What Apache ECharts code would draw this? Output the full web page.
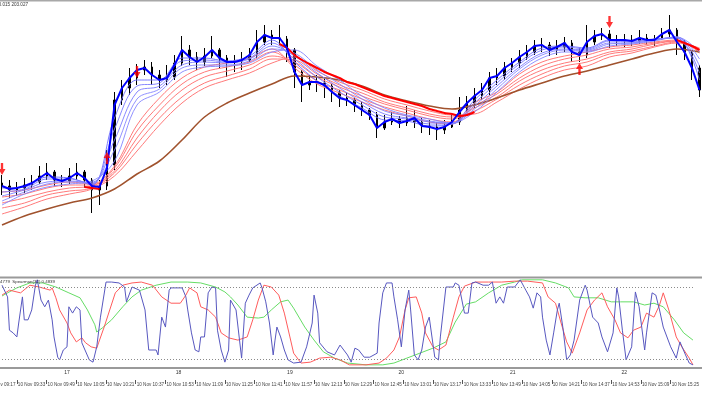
<!DOCTYPE html>
<html><head><meta charset="utf-8">
<script src="https://cdn.jsdelivr.net/npm/echarts@6/dist/echarts.min.js"></script>
<style>html,body{margin:0;padding:0;background:#fff}#c{width:702px;height:395px}</style>
</head><body><div id="c"></div>
<script>
const N = null;
// ---- time base (4-minute bars from 09:25) ----
const barStart = '09:25';
const barStepMin = 4;
const barCount = 94;
const fanStep = 3; // fan lines sampled every 3rd bar

// ---- price bars ----
const barOpen = [203.017,203.014,203.010,203.012,203.015,203.018,203.024,203.028,203.020,203.019,
203.024,203.028,203.020,203.010,203.014,203.035,203.100,203.112,203.122,203.130,
203.133,203.125,203.120,203.123,203.137,203.150,203.143,203.138,203.144,203.150,
203.142,203.138,203.139,203.140,203.145,203.158,203.165,203.162,203.161,203.150,
203.128,203.115,203.118,203.117,203.114,203.108,203.102,203.100,203.095,203.090,
203.085,203.072,203.078,203.081,203.077,203.082,203.078,203.074,203.073,203.070,
203.073,203.078,203.090,203.097,203.104,203.110,203.122,203.124,203.132,203.137,
203.143,203.148,203.154,203.155,203.150,203.153,203.157,203.148,203.145,203.158,
203.164,203.166,203.160,203.159,203.160,203.159,203.162,203.160,203.161,203.166,
203.170,203.158,203.148,203.132];
const barClose = [203.014,203.010,203.012,203.015,203.018,203.024,203.028,203.020,203.019,203.024,
203.028,203.020,203.010,203.014,203.035,203.100,203.112,203.122,203.130,203.133,
203.125,203.120,203.123,203.137,203.150,203.143,203.138,203.144,203.150,203.142,
203.138,203.139,203.140,203.145,203.158,203.165,203.162,203.161,203.150,203.128,
203.115,203.118,203.117,203.114,203.108,203.102,203.100,203.095,203.090,203.085,
203.072,203.078,203.081,203.077,203.082,203.078,203.074,203.073,203.070,203.073,
203.078,203.090,203.097,203.104,203.110,203.122,203.124,203.132,203.137,203.143,
203.148,203.154,203.155,203.150,203.153,203.157,203.148,203.145,203.158,203.164,
203.166,203.160,203.159,203.160,203.159,203.162,203.160,203.161,203.166,203.170,
203.158,203.148,203.132,203.110];
const barLow = [203.005,203.002,203.004,203.007,203.010,203.016,203.020,203.014,203.013,203.016,
203.020,203.012,202.987,202.995,203.010,203.030,203.095,203.105,203.115,203.125,
203.115,203.112,203.115,203.120,203.134,203.135,203.130,203.134,203.142,203.132,
203.123,203.128,203.130,203.138,203.142,203.155,203.155,203.155,203.138,203.112,
203.098,203.110,203.108,203.102,203.098,203.093,203.094,203.088,203.084,203.080,
203.062,203.070,203.075,203.072,203.074,203.072,203.067,203.065,203.060,203.066,
203.072,203.075,203.088,203.092,203.100,203.105,203.115,203.120,203.128,203.132,
203.140,203.145,203.148,203.144,203.145,203.148,203.138,203.138,203.142,203.155,
203.160,203.152,203.154,203.153,203.154,203.156,203.155,203.154,203.160,203.162,
203.145,203.140,203.120,203.103];
const barHigh = [203.025,203.020,203.018,203.022,203.025,203.034,203.037,203.030,203.025,203.032,
203.037,203.030,203.022,203.020,203.050,203.108,203.120,203.132,203.136,203.140,
203.138,203.130,203.135,203.145,203.164,203.155,203.148,203.152,203.164,203.152,
203.145,203.145,203.148,203.152,203.170,203.175,203.170,203.175,203.164,203.152,
203.130,203.125,203.125,203.122,203.116,203.110,203.108,203.102,203.098,203.092,
203.088,203.085,203.088,203.084,203.094,203.090,203.082,203.080,203.078,203.080,
203.085,203.103,203.104,203.112,203.117,203.128,203.132,203.138,203.142,203.150,
203.155,203.160,203.162,203.158,203.160,203.163,203.160,203.152,203.175,203.170,
203.172,203.170,203.165,203.166,203.165,203.170,203.166,203.165,203.172,203.185,
203.172,203.160,203.150,203.135];

// ---- moving averages ----
const emaFastBlue = [203.014,203.011,203.012,203.014,203.017,203.022,203.027,203.021,203.019,203.022,
203.027,203.022,203.014,203.013,203.032,203.095,203.112,203.122,203.130,203.132,
203.125,203.120,203.122,203.135,203.150,203.143,203.138,203.143,203.150,203.142,
203.138,203.138,203.140,203.145,203.158,203.165,203.162,203.162,203.152,203.128,
203.115,203.118,203.118,203.115,203.108,203.102,203.100,203.095,203.090,203.085,
203.072,203.078,203.081,203.077,203.079,203.082,203.074,203.073,203.071,203.073,
203.078,203.088,203.097,203.104,203.110,203.122,203.124,203.132,203.137,203.143,
203.148,203.154,203.155,203.150,203.153,203.157,203.148,203.145,203.158,203.164,
203.166,203.160,203.160,203.160,203.159,203.162,203.160,203.160,203.166,203.170,
203.158,203.148,203.132,203.110];
const blue1 = [203.012,203.013,203.023,203.022,203.015,203.082,203.120,203.120,203.142,203.142,203.139,203.144,203.160,203.138,203.119,203.104,203.092,203.080,203.079,203.074,203.076,203.100,203.120,203.138,203.152,203.154,203.152,203.160,203.159,203.161,203.162,203.120];
const blue2 = [203.008,203.011,203.021,203.021,203.016,203.071,203.114,203.117,203.139,203.140,203.138,203.142,203.157,203.141,203.123,203.108,203.095,203.083,203.081,203.076,203.076,203.097,203.117,203.136,203.150,203.153,203.151,203.159,203.158,203.161,203.162,203.127];
const blue3 = [203.004,203.010,203.018,203.019,203.017,203.060,203.108,203.114,203.135,203.138,203.137,203.141,203.154,203.144,203.127,203.112,203.098,203.086,203.082,203.078,203.077,203.094,203.114,203.133,203.147,203.151,203.150,203.157,203.157,203.160,203.163,203.134];
const blue4 = [202.999,203.008,203.016,203.018,203.018,203.050,203.101,203.111,203.132,203.135,203.135,203.139,203.151,203.147,203.130,203.116,203.101,203.089,203.084,203.079,203.077,203.091,203.111,203.131,203.145,203.150,203.149,203.156,203.157,203.160,203.163,203.141];
const blue5 = [202.995,203.006,203.013,203.016,203.019,203.039,203.095,203.108,203.128,203.133,203.134,203.137,203.148,203.150,203.134,203.120,203.104,203.092,203.085,203.081,203.077,203.088,203.108,203.128,203.142,203.148,203.148,203.154,203.156,203.159,203.163,203.148];
const red1 = [203.008,203.010,203.015,203.018,203.016,203.034,203.075,203.102,203.122,203.133,203.137,203.142,203.151,203.132,203.116,203.107,203.098,203.090,203.084,203.078,203.076,203.097,203.108,203.126,203.138,203.144,203.148,203.153,203.155,203.158,203.160,203.147];
const red2 = [203.003,203.006,203.012,203.015,203.015,203.032,203.069,203.095,203.116,203.128,203.133,203.138,203.148,203.135,203.119,203.110,203.101,203.093,203.087,203.081,203.078,203.094,203.106,203.122,203.134,203.141,203.145,203.151,203.153,203.157,203.159,203.148];
const red3 = [202.997,203.002,203.008,203.012,203.014,203.029,203.062,203.089,203.110,203.123,203.129,203.135,203.144,203.138,203.123,203.113,203.104,203.096,203.090,203.084,203.081,203.092,203.103,203.119,203.130,203.137,203.141,203.148,203.151,203.156,203.159,203.150];
const red4 = [202.992,202.997,203.005,203.009,203.012,203.027,203.056,203.082,203.103,203.117,203.124,203.131,203.141,203.140,203.126,203.115,203.107,203.098,203.092,203.086,203.083,203.089,203.101,203.115,203.126,203.134,203.138,203.146,203.149,203.154,203.158,203.151];
const red5 = [202.986,202.993,203.001,203.006,203.011,203.024,203.049,203.075,203.097,203.112,203.120,203.127,203.137,203.143,203.129,203.118,203.110,203.101,203.095,203.089,203.085,203.086,203.098,203.111,203.122,203.130,203.134,203.143,203.147,203.153,203.157,203.152];
const brownSlow = [202.975,202.984,202.991,202.997,203.002,203.011,203.026,203.039,203.060,203.083,203.097,203.107,203.116,203.124,203.123,203.120,203.114,203.105,203.099,203.094,203.091,203.095,203.102,203.110,203.117,203.124,203.129,203.135,203.141,203.147,203.151,203.148];
const thickRed = [N,N,N,N,N,N,N,N,N,N,
N,203.013,203.012,203.011,N,N,N,N,N,N,
N,N,N,N,N,N,N,N,N,N,
N,N,N,N,N,N,N,203.156,203.152,203.145,
203.140,203.136,203.132,203.128,203.125,203.122,203.118,203.116,203.113,203.110,
203.107,203.104,203.102,203.100,203.098,203.096,203.094,203.091,203.089,203.087,
203.086,203.084,203.085,203.088,N,N,N,N,N,N,
N,N,N,N,N,N,N,N,N,N,
N,N,N,N,N,N,N,N,N,N,
203.160,203.157,203.154,203.150];

// ---- signal arrows (bar index, price) ----
const arrowDownBar = [0, 18, 81];
const arrowDownPrice = [203.031, 203.128, 203.178];
const arrowUpBar = [14, 77];
const arrowUpPrice = [203.042, 203.131];

// ---- oscillator (times in minutes after 09:00) ----
const oscBlueMin = [25,28,29,31,33,34,36,37,39,41,
43,44,46,48,50,52,53,55,56,58,
60,61,63,65,67,68,72,74,76,78,
81,84,88,91,92,95,99,102,104,108,
109,111,113,115,116,122,124,125,127,129,
131,132,134,136,138,140,141,143,145,147,
148,151,154,156,158,160,164,165,167,169,
171,172,173,175,177,179,182,186,189,192,
193,195,196,200,204,207,209,211,213,215,
217,220,223,227,228,230,232,235,236,238,
240,242,244,245,247,249,251,253,255,258,
260,261,264,268,269,271,274,276,278,280,
284,287,289,291,293,295,297,301,304,307,
309,311,313,315,316,318,320,322,324,325,
327,329,331,333,336,339,340,343,346,348,
351,354,356,357,359,361,364,366,368,371,
372,375,377,379,381,385,388,390,393,395,
397];
const oscBlueVal = [0.84,0.58,-0.16,-0.22,-0.31,0.00,0.58,0.07,0.07,0.29,
0.84,0.96,0.51,0.36,0.51,0.07,-0.31,-0.76,-0.82,-0.60,
-0.53,0.36,0.22,0.36,0.29,-0.44,-0.82,-0.87,-0.53,0.13,
0.91,0.91,0.89,0.80,0.47,0.80,0.73,0.29,-0.60,-0.60,
-0.71,0.13,-0.09,0.73,0.78,0.78,0.58,0.29,-0.22,-0.60,
-0.64,-0.31,-0.31,0.67,0.80,0.78,-0.16,-0.60,-0.87,-0.60,
0.51,0.29,-0.78,0.44,0.62,0.78,0.89,0.78,0.47,0.00,
-0.71,-0.38,-0.09,-0.31,-0.60,-0.82,-0.89,-0.87,-0.53,0.00,
0.62,0.22,-0.44,-0.64,-0.71,-0.49,-0.60,-0.71,-0.87,-0.56,
-0.60,-0.76,-0.76,-0.67,0.00,0.67,0.89,0.89,0.58,0.07,
-0.53,0.29,0.73,0.29,-0.71,-0.82,-0.60,-0.09,0.13,-0.76,
-0.82,-0.31,0.80,0.80,0.89,0.84,0.22,0.22,0.89,0.91,
0.84,0.84,0.91,0.44,0.58,0.44,0.80,0.80,0.96,0.73,
0.58,0.33,0.67,0.58,0.13,-0.38,-0.71,-0.22,0.29,0.44,
-0.11,-0.82,-0.71,-0.38,0.51,0.84,0.73,0.13,0.00,-0.31,
-0.64,-0.22,0.78,0.58,-0.16,-0.82,-0.53,0.69,0.36,-0.60,
-0.22,0.67,0.62,0.29,-0.09,-0.53,-0.78,-0.42,-0.71,-0.89,
-0.93];
const oscRedMin = [25,29,35,40,45,51,52,54,56,60,62,65,68,70,73,76,77,80,83,86,
90,95,100,106,111,116,121,124,126,130,132,136,140,143,147,152,157,160,163,166,
170,174,177,180,182,186,191,196,202,207,212,221,228,232,236,239,242,244,248,251,
253,257,260,264,268,271,274,280,287,294,301,308,316,319,323,326,329,332,333,336,
340,344,348,351,355,358,362,365,369,372,376,379,381,384,388,391,395,397];
const oscRedVal = [0.62,0.73,0.67,0.84,0.80,0.73,0.78,0.56,0.29,0.00,-0.22,-0.42,-0.33,-0.44,-0.53,-0.56,-0.44,-0.09,0.29,0.67,
0.84,0.89,0.91,0.84,0.58,0.44,0.44,0.62,0.78,0.67,0.36,0.29,0.13,-0.22,-0.33,-0.38,-0.31,0.07,0.51,0.84,
0.80,0.62,0.22,-0.31,-0.67,-0.89,-0.87,-0.78,-0.76,-0.82,-0.93,-0.93,-0.89,-0.78,-0.60,-0.31,0.29,0.56,0.58,0.22,
-0.22,-0.53,-0.60,-0.49,0.13,0.58,0.82,0.91,0.91,0.91,0.93,0.93,0.89,0.58,0.44,0.00,-0.42,-0.67,-0.64,-0.22,
0.29,0.51,0.67,0.36,0.07,-0.22,-0.33,-0.16,-0.09,0.22,0.13,0.40,0.67,0.29,-0.31,-0.53,-0.78,-0.93];
const oscGreenMin = [25,28,33,40,47,54,61,67,71,75,76,79,84,90,95,100,108,116,125,132,
140,145,148,152,157,163,166,170,175,179,182,188,193,198,204,211,221,230,236,243,
250,257,264,269,275,280,287,294,301,305,316,323,330,333,339,346,353,358,365,371,
376,381,387,392,397];
const oscGreenVal = [0.60,0.67,0.78,0.89,0.89,0.80,0.67,0.56,0.29,-0.04,-0.20,-0.11,0.07,0.36,0.58,0.73,0.84,0.91,0.91,0.89,
0.80,0.69,0.58,0.40,0.13,0.11,0.13,0.29,0.47,0.51,0.33,-0.09,-0.38,-0.64,-0.78,-0.89,-0.93,-0.93,-0.89,-0.78,
-0.67,-0.56,-0.42,0.02,0.42,0.47,0.67,0.84,0.91,0.96,0.96,0.89,0.78,0.58,0.56,0.56,0.47,0.47,0.47,0.40,
0.44,0.36,0.07,-0.22,-0.38];
const oscLevels = [0.8, -0.8];

// ---- axis labels ----
const timeLabels = ['09:33','09:49','10:05','10:21','10:37','10:53','11:09','11:25','11:41','11:57','12:13','12:29',
'12:45','13:01','13:17','13:33','13:49','14:05','14:21','14:37','14:53','15:09','15:25'];
const firstHiddenLabel = '09:17';
const hourLabels = ['17','18','19','20','21','22'];
const hourTimes = ['10:00','11:00','12:00','13:00','14:00','15:00'];
const priceText = '203.015 203.027';
const oscText = 'Spearman(16) 0.4779  Spearman(32) 0.4839';

// ---- helpers ----
const pad = n => (n < 10 ? '0' : '') + n;
const toMin = s => { const p = s.split(':'); return (+p[0] - 9) * 60 + (+p[1]); };
const minToClock = m => pad(9 + Math.floor(m / 60)) + ':' + pad(m % 60);
const startMin = toMin(barStart);
const barTimes = [];
for (let i = 0; i < barCount; i++) barTimes.push(minToClock(startMin + i * barStepMin));
const endMin = startMin + (barCount - 1) * barStepMin;
const onFanBars = arr => barTimes.map((t, i) => (i % fanStep === 0 ? arr[i / fanStep] : null));
const zip = (a, b) => a.map((v, i) => [v, b[i]]);
const timeTicks = timeLabels.map(toMin);
const hourTicks = hourTimes.map(toMin);
const hourMap = {}; hourTicks.forEach((m, i) => hourMap[m] = hourLabels[i]);
const FONT = 'Liberation Sans, Arial, sans-serif';

const candleData = barOpen.map((o, i) => [o, barClose[i], barLow[i], barHigh[i]]);

function fanLine(arr, color, width) {
  return { type: 'line', xAxisIndex: 0, yAxisIndex: 0, data: onFanBars(arr), connectNulls: true,
    smooth: 0.35, showSymbol: false, silent: true, lineStyle: { color: color, width: width }, z: 3 };
}
function oscLine(mins, vals, color, extra) {
  return Object.assign({ type: 'line', xAxisIndex: 1, yAxisIndex: 1, data: zip(mins, vals), showSymbol: false,
    silent: true, lineStyle: { color: color, width: 1 }, z: 3 }, extra || {});
}

const chart = echarts.init(document.getElementById('c'), null, { renderer: 'canvas' });
const option = {
  animation: false,
  backgroundColor: '#ffffff',
  grid: [
    { left: 2, right: 2.5, top: 2, height: 270 },
    { left: 2, right: 2.5, top: 278, height: 90 }
  ],
  xAxis: [
    { type: 'category', gridIndex: 0, data: barTimes, boundaryGap: false, show: false },
    { type: 'value', gridIndex: 1, min: startMin, max: endMin, position: 'bottom', offset: 12,
      axisLine: { show: false, onZero: false }, splitLine: { show: false },
      axisTick: { show: true, customValues: timeTicks, length: 4, inside: false, lineStyle: { color: '#555', width: 1 } },
      axisLabel: { customValues: timeTicks, formatter: v => '10 Nov ' + minToClock(v), align: 'left', margin: 2,
        padding: [0, 0, 0, 1], fontSize: 4.6, fontFamily: FONT, color: '#444' } },
    { type: 'value', gridIndex: 1, min: startMin, max: endMin, position: 'bottom', offset: 0,
      axisLine: { show: false, onZero: false }, splitLine: { show: false }, axisTick: { show: false },
      axisLabel: { customValues: hourTicks, formatter: v => hourMap[v] || '', margin: 2,
        fontSize: 5, fontFamily: FONT, color: '#333' } }
  ],
  yAxis: [
    { type: 'value', gridIndex: 0, min: 202.928, max: 203.198, show: false, scale: true },
    { type: 'value', gridIndex: 1, min: -1, max: 1, show: false }
  ],
  series: [
    { type: 'candlestick', xAxisIndex: 0, yAxisIndex: 0, data: candleData, barWidth: 2, silent: true, z: 2,
      itemStyle: { color: '#000', color0: '#000', borderColor: '#000', borderColor0: '#000', borderWidth: 1 } },
    fanLine(red1, '#ff7a7a', 1), fanLine(red2, '#ff7a7a', 1), fanLine(red3, '#ff7a7a', 1),
    fanLine(red4, '#ff7a7a', 1), fanLine(red5, '#ff7a7a', 1),
    fanLine(brownSlow, '#a0522d', 1.6),
    fanLine(blue1, '#6b6bff', 0.9), fanLine(blue2, '#7b7bff', 0.9), fanLine(blue3, '#7b7bff', 0.9),
    fanLine(blue4, '#8585ff', 0.9), fanLine(blue5, '#8585ff', 0.9),
    { type: 'line', xAxisIndex: 0, yAxisIndex: 0, data: thickRed, showSymbol: false, silent: true, smooth: 0.2,
      lineStyle: { color: '#ff0000', width: 2 }, z: 5 },
    { type: 'line', xAxisIndex: 0, yAxisIndex: 0, data: emaFastBlue, showSymbol: false, silent: true,
      lineStyle: { color: '#0000ff', width: 2 }, z: 6 },
    { type: 'scatter', xAxisIndex: 0, yAxisIndex: 0, data: zip(arrowDownBar, arrowDownPrice), silent: true, z: 8,
      symbol: 'path://M2,0 L4,0 L4,5 L6,5 L3,10 L0,5 L2,5 Z', symbolSize: [7, 12], itemStyle: { color: '#ff0000' } },
    { type: 'scatter', xAxisIndex: 0, yAxisIndex: 0, data: zip(arrowUpBar, arrowUpPrice), silent: true, z: 8,
      symbol: 'path://M3,0 L6,5 L4,5 L4,10 L2,10 L2,5 L0,5 Z', symbolSize: [7, 12], itemStyle: { color: '#ff0000' } },
    oscLine(oscGreenMin, oscGreenVal, '#66dd66'),
    oscLine(oscRedMin, oscRedVal, '#ff5c5c'),
    oscLine(oscBlueMin, oscBlueVal, '#5858c0', {
      markLine: { silent: true, symbol: ['none', 'none'], label: { show: false }, animation: false,
        lineStyle: { color: '#8a8a8a', type: [1, 2], width: 1 },
        data: oscLevels.map(v => ({ yAxis: v })) }
    })
  ]
};
chart.setOption(option);

const hiddenX = chart.convertToPixel({ xAxisIndex: 1 }, toMin(firstHiddenLabel));
chart.setOption({
  graphic: [
    { type: 'rect', shape: { x: 0, y: 0, width: 702, height: 1.5 }, style: { fill: '#a8a8a8' }, silent: true },
    { type: 'rect', shape: { x: 0, y: 276.5, width: 702, height: 2 }, style: { fill: '#9a9a9a' }, silent: true },
    { type: 'rect', shape: { x: 0, y: 367, width: 702, height: 2 }, style: { fill: '#9a9a9a' }, silent: true },
    { type: 'text', x: 28, y: 4.5, silent: true,
      style: { text: priceText, fill: '#333', font: '4.6px ' + FONT, align: 'right', verticalAlign: 'middle' } },
    { type: 'text', x: 55, y: 282, silent: true, z: 20,
      style: { text: oscText, fill: '#333', font: '4.4px ' + FONT, align: 'right', verticalAlign: 'middle' } },
    { type: 'line', shape: { x1: hiddenX, y1: 380, x2: hiddenX, y2: 384 }, style: { stroke: '#555', lineWidth: 1 }, silent: true },
    { type: 'text', x: hiddenX + 1, y: 382, silent: true,
      style: { text: '10 Nov ' + firstHiddenLabel, fill: '#444', font: '4.6px ' + FONT, align: 'left', verticalAlign: 'top' } }
  ]
});
</script></body></html>
